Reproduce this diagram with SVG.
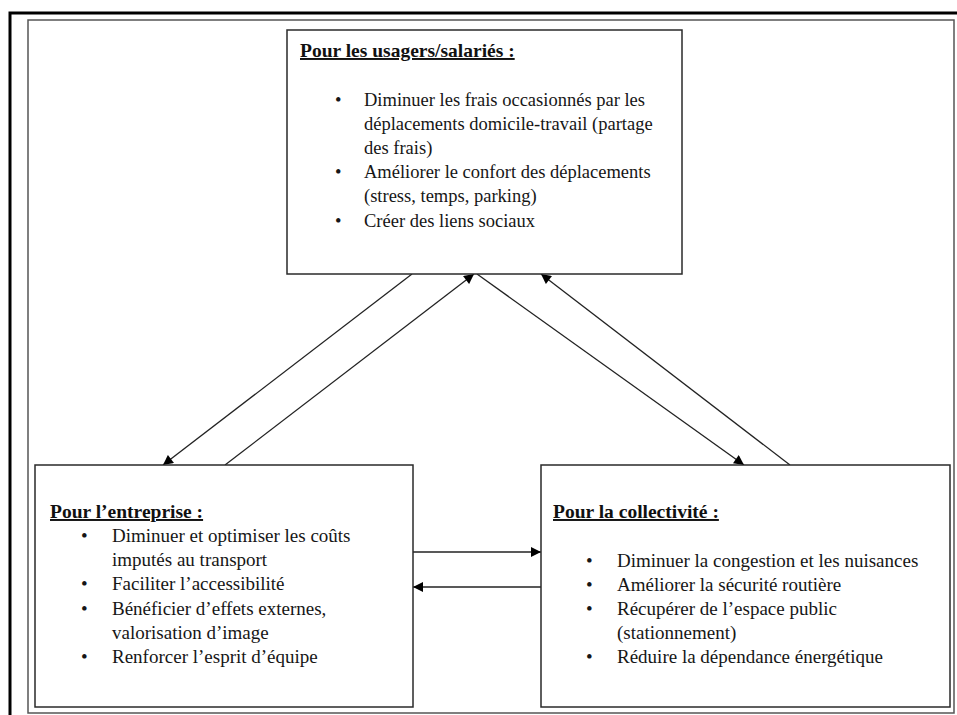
<svg xmlns="http://www.w3.org/2000/svg" width="957" height="715" viewBox="0 0 957 715">
<defs>
<style>
.box{fill:#fff;stroke:#2a2a2a;stroke-width:1.5}
.t{font-family:"Liberation Serif","Times New Roman",serif;font-size:19px;fill:#161616}
.t2{font-size:18.5px}
.h{font-family:"Liberation Serif","Times New Roman",serif;font-size:19.5px;font-weight:bold;fill:#111;text-decoration:underline}
.c{stroke:#222;stroke-width:1.3;fill:none;marker-end:url(#ah)}
</style>
<marker id="ah" viewBox="0 0 10 10" refX="10" refY="5" markerWidth="11" markerHeight="10" markerUnits="userSpaceOnUse" orient="auto">
<path d="M0,0 L10,5 L0,10 Z" fill="#000"/>
</marker>
</defs>
<rect x="0" y="0" width="957" height="715" fill="#fff"/>
<path d="M10,715 L10,13 L957,13" fill="none" stroke="#000" stroke-width="3"/>
<rect x="28" y="20" width="926" height="693" fill="none" stroke="#555" stroke-width="1.5"/>

<g id="connectors">
<line class="c" x1="412" y1="274" x2="163" y2="465"/>
<line class="c" x1="225" y1="465" x2="474" y2="274"/>
<line class="c" x1="477" y1="274" x2="744" y2="465"/>
<line class="c" x1="790" y1="465" x2="541" y2="274"/>
<line class="c" x1="413" y1="552" x2="541" y2="552"/>
<line class="c" x1="541" y1="587" x2="413" y2="587"/>
</g>

<g id="usagers">
<rect class="box" x="287" y="30" width="395" height="244"/>
<text class="h" x="300" y="57">Pour les usagers/salariés :</text>
<g class="t t2">
<text x="335" y="106">•</text><text x="364" y="106">Diminuer les frais occasionnés par les</text>
<text x="364" y="130">déplacements domicile-travail (partage</text>
<text x="364" y="154">des frais)</text>
<text x="335" y="178">•</text><text x="364" y="178">Améliorer le confort des déplacements</text>
<text x="364" y="202">(stress, temps, parking)</text>
<text x="335" y="227">•</text><text x="364" y="227">Créer des liens sociaux</text>
</g>
</g>

<g id="entreprise">
<rect class="box" x="35" y="465" width="378" height="242"/>
<text class="h" x="50" y="518">Pour l’entreprise :</text>
<g class="t">
<text x="81" y="542">•</text><text x="112" y="542">Diminuer et optimiser les coûts</text>
<text x="112" y="566">imputés au transport</text>
<text x="81" y="590">•</text><text x="112" y="590">Faciliter l’accessibilité</text>
<text x="81" y="615">•</text><text x="112" y="615">Bénéficier d’effets externes,</text>
<text x="112" y="639">valorisation d’image</text>
<text x="81" y="663">•</text><text x="112" y="663">Renforcer l’esprit d’équipe</text>
</g>
</g>

<g id="collectivite">
<rect class="box" x="541" y="465" width="409" height="242"/>
<text class="h" x="553" y="518">Pour la collectivité :</text>
<g class="t">
<text x="586" y="567">•</text><text x="617" y="567">Diminuer la congestion et les nuisances</text>
<text x="586" y="591">•</text><text x="617" y="591">Améliorer la sécurité routière</text>
<text x="586" y="615">•</text><text x="617" y="615">Récupérer de l’espace public</text>
<text x="617" y="639">(stationnement)</text>
<text x="586" y="663">•</text><text x="617" y="663">Réduire la dépendance énergétique</text>
</g>
</g>
</svg>
